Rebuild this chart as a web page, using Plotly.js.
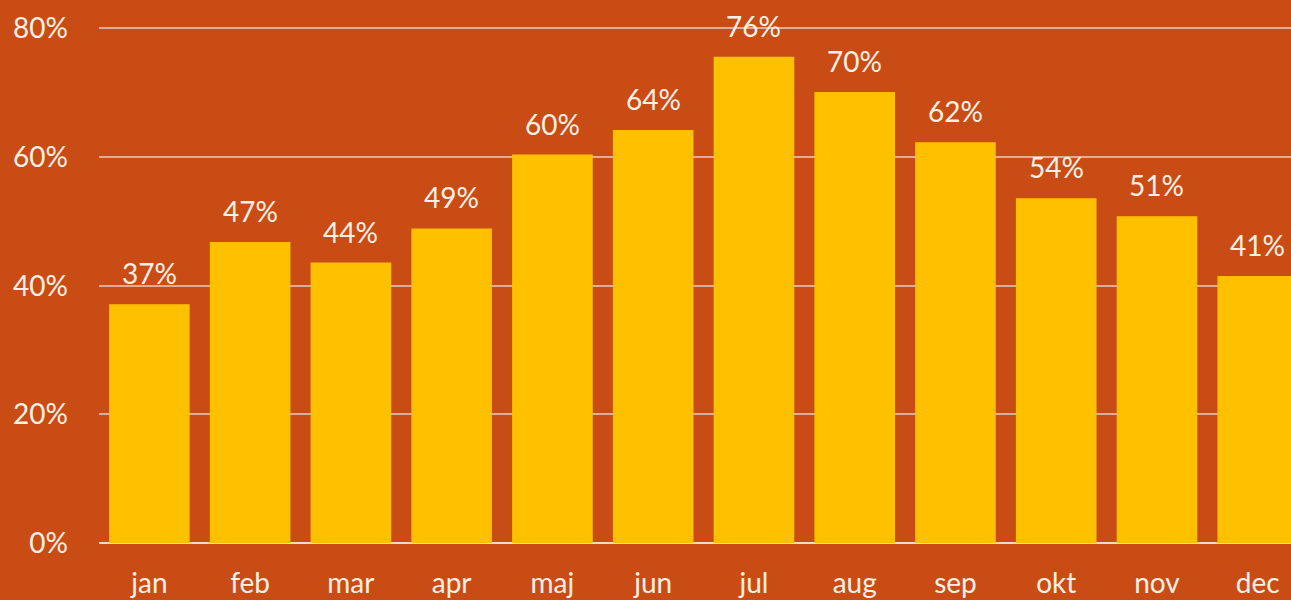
<!DOCTYPE html>
<html>
<head>
<meta charset="utf-8">
<script src="https://cdn.plot.ly/plotly-3.0.1.min.js"></script>
<style>html,body{margin:0;padding:0;overflow:hidden;background:#CA4C15;}</style>
</head>
<body>
<div id="chart" style="width:1291px;height:600px;"></div>
<script>
const months = ["jan","feb","mar","apr","maj","jun","jul","aug","sep","okt","nov","dec"];
const values = [37.1, 46.8, 43.6, 48.9, 60.4, 64.2, 75.6, 70.1, 62.3, 53.6, 50.8, 41.5];
const labels = ["37%","47%","44%","49%","60%","64%","76%","70%","62%","54%","51%","41%"];
const yTicks = [0, 20, 40, 60, 80];
const yTickText = ["0%","20%","40%","60%","80%"];

const font = "Lato, 'Open Sans', sans-serif";
const txt = "#FBF0E6";

const annotations = months.map((m, i) => ({
  x: m, y: values[i], xref: "x", yref: "y",
  text: labels[i], showarrow: false,
  yanchor: "bottom", yshift: 12,
  font: {family: font, size: 28, color: txt}
}));

Plotly.newPlot("chart", [{
  type: "bar",
  x: months,
  y: values,
  cliponaxis: true,
  marker: {color: "#FFC000", line: {width: 0}},
  hoverinfo: "skip"
}], {
  width: 1291, height: 600,
  paper_bgcolor: "#CA4C15",
  plot_bgcolor: "#CA4C15",
  margin: {l: 98.6, r: 0, t: 21.6, b: 57},
  bargap: 0.2,
  showlegend: false,
  annotations: annotations,
  xaxis: {
    type: "category",
    range: [-0.5, 11.33],
    showgrid: false,
    showline: false,
    zeroline: false,
    ticks: "",
    ticklabelstandoff: 21,
    tickfont: {family: font, size: 28, color: txt},
    fixedrange: true
  },
  yaxis: {
    range: [0, 81],
    tickvals: yTicks,
    ticktext: yTickText,
    showgrid: true,
    gridcolor: "#DDAE9C",
    gridwidth: 2,
    zeroline: true,
    zerolinecolor: "#F3D8C4",
    zerolinewidth: 2,
    showline: false,
    ticks: "",
    ticklabelstandoff: 30,
    tickfont: {family: font, size: 28, color: txt},
    fixedrange: true
  }
}, {displayModeBar: false, staticPlot: true});
</script>
</body>
</html>
